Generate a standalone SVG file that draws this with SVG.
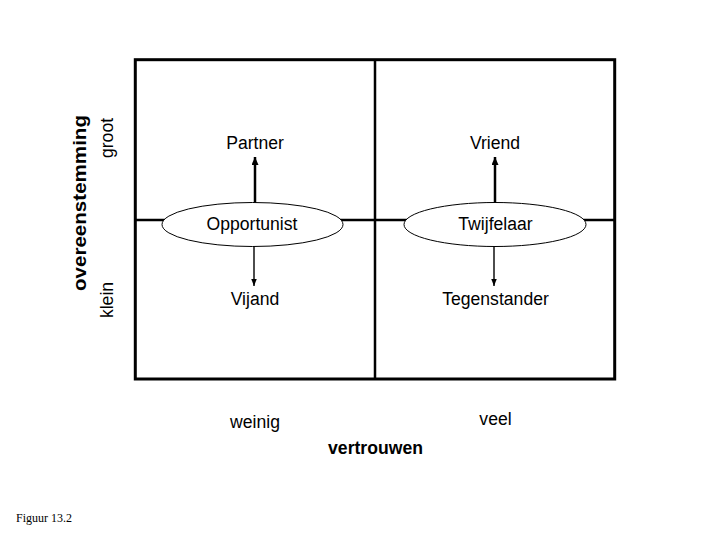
<svg xmlns="http://www.w3.org/2000/svg" width="720" height="540" viewBox="0 0 720 540">
<style>
.t{font-family:"Liberation Sans",Arial,sans-serif;font-size:17.6px;fill:#000;text-anchor:middle}
.b{font-weight:bold}
.frame{fill:none;stroke:#000;stroke-width:3}
.grid{stroke:#000;stroke-width:2.5}
.node{fill:#fff;stroke:#000;stroke-width:1}
.up{stroke:#000;stroke-width:2.5;fill:none}
.dn{stroke:#000;stroke-width:1.4;fill:none}
</style>
<defs>
<marker id="ahUp" markerUnits="userSpaceOnUse" markerWidth="10" markerHeight="10" refX="8" refY="3.5" orient="auto">
<path d="M0,0 L8,3.5 L0,7 z" fill="#000"/>
</marker>
<marker id="ahDn" markerUnits="userSpaceOnUse" markerWidth="10" markerHeight="10" refX="7" refY="2.75" orient="auto">
<path d="M0,0 L7,2.75 L0,5.5 z" fill="#000"/>
</marker>
</defs>
<rect x="0" y="0" width="720" height="540" fill="#fff"/>
<g id="frame">
<rect class="frame" x="135.3" y="59.7" width="479.4" height="319.3"/>
<line class="grid" x1="375" y1="59.7" x2="375" y2="379"/>
<line class="grid" x1="135.3" y1="220" x2="614.7" y2="220"/>
</g>
<g id="connectors">
<line class="up" x1="255" y1="203" x2="255" y2="157" marker-end="url(#ahUp)"/>
<line class="dn" x1="254" y1="246" x2="254" y2="286" marker-end="url(#ahDn)"/>
<line class="up" x1="495" y1="203" x2="495" y2="157" marker-end="url(#ahUp)"/>
<line class="dn" x1="494" y1="246" x2="494" y2="286" marker-end="url(#ahDn)"/>
</g>
<g id="opportunist">
<ellipse class="node" cx="252.5" cy="224.5" rx="90.5" ry="22"/>
<text class="t" x="252" y="230">Opportunist</text>
</g>
<g id="twijfelaar">
<ellipse class="node" cx="495" cy="224.5" rx="91" ry="22"/>
<text class="t" x="495.5" y="230">Twijfelaar</text>
</g>
<g id="partner"><text class="t" x="255" y="149">Partner</text></g>
<g id="vriend"><text class="t" x="495" y="149">Vriend</text></g>
<g id="vijand"><text class="t" x="255" y="305">Vijand</text></g>
<g id="tegenstander"><text class="t" x="495.5" y="305">Tegenstander</text></g>
<g id="axis-y">
<text class="t b" style="font-size:19px" textLength="176" lengthAdjust="spacingAndGlyphs" transform="translate(86,203) rotate(-90)">overeenstemming</text>
<text class="t" transform="translate(112.5,138) rotate(-90)">groot</text>
<text class="t" transform="translate(113,300) rotate(-90)">klein</text>
</g>
<g id="axis-x">
<text class="t" x="255" y="428">weinig</text>
<text class="t" x="495.5" y="425">veel</text>
<text class="t b" x="375.5" y="454">vertrouwen</text>
</g>
<text x="16" y="522" style="font-family:'Liberation Serif','Times New Roman',serif;font-size:12px;fill:#000">Figuur 13.2</text>
</svg>
